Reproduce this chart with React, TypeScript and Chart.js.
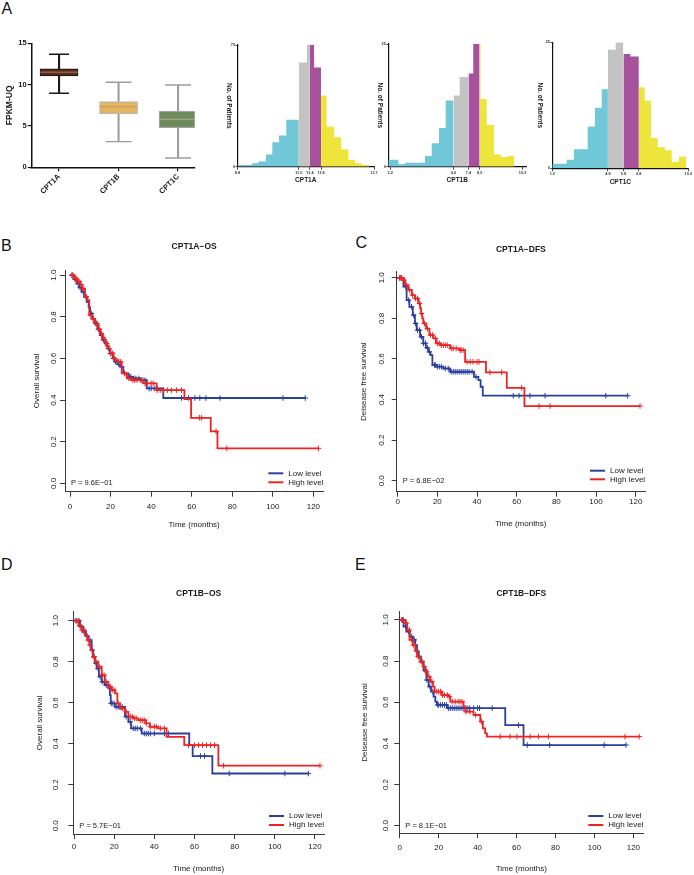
import React, { useEffect, useRef } from 'react';
import { Chart, registerables } from 'chart.js';

Chart.register(...registerables);

const SANS = '"Liberation Sans", Arial, Helvetica, sans-serif';

// ---------------- Panel A: box plot data ----------------
const boxGenes = ['CPT1A', 'CPT1B', 'CPT1C'];
const boxMin = [8.95, 3.1, 1.13];
const boxQ1 = [11.05, 6.45, 4.8];
const boxMedian = [11.5, 7.33, 5.8];
const boxQ3 = [11.9, 7.95, 6.8];
const boxMax = [13.67, 10.28, 9.95];
const boxYTicks = [0, 5, 10, 15];

// ---------------- Panel A: histograms ----------------
const hist1Edges = [8.8, 9.06, 9.32, 9.55, 9.82, 10.05, 10.29, 10.55, 10.79, 11.0, 11.29, 11.4, 11.55, 11.8, 12.0, 12.27, 12.52, 12.78, 13.02, 13.26, 13.52];
const hist1Counts = [1, 1, 2, 3, 7, 14, 18, 27, 27, 60, 70, 70, 57, 41, 23, 17, 10, 4, 2, 1];
const hist1Ticks = [8.8, 11.0, 11.4, 11.8, 13.7];
const hist1YMax = 70;

const hist2Edges = [3.1, 3.64, 4.0, 5.07, 5.43, 5.82, 6.18, 6.6, 6.93, 7.4, 7.66, 8.0, 8.05, 8.38, 8.77, 9.13, 9.49, 9.86];
const hist2Counts = [1.4, 0.5, 0.8, 2.2, 4.8, 7.9, 13.5, 14.5, 18.3, 19, 25, 25, 13.8, 8.5, 2.5, 2, 2.2];
const hist2Ticks = [3.2, 6.6, 7.4, 8.0, 10.3];
const hist2YMax = 25;

const hist3Edges = [1.2, 2.13, 2.6, 3.49, 3.96, 4.4, 4.8, 5.3, 5.8, 6.25, 6.8, 7.18, 7.59, 8.02, 8.49, 8.93, 9.4, 9.85];
const hist3Counts = [0.9, 1.7, 3.8, 8.3, 12, 15.7, 23.5, 25, 22.7, 22.2, 16.1, 13.4, 6, 4.2, 3.6, 1.3, 2.3];
const hist3Ticks = [1.2, 4.8, 5.8, 6.8, 10.0];
const hist3YMax = 25;

// ---------------- KM curves ----------------
const kmTimeTicks = [0, 20, 40, 60, 80, 100, 120];
const kmSurvTicks = [0, 0.2, 0.4, 0.6, 0.8, 1.0];
const kmGroups = ['Low level', 'High level'];

// B: CPT1A-OS
const bLowTime = [0, 2, 3.3, 4.5, 5.75, 7, 8.2, 9.2, 9.9, 11, 12.3, 13.5, 14.8, 16, 17.3, 18.5, 19.7, 21, 22.2, 23.5, 24.7, 26.3, 28.8, 31, 34.5, 37.8, 46];
const bLowSurv = [1.0, 0.98, 0.96, 0.94, 0.92, 0.895, 0.872, 0.845, 0.816, 0.79, 0.768, 0.74, 0.712, 0.69, 0.672, 0.648, 0.624, 0.6, 0.584, 0.572, 0.56, 0.528, 0.512, 0.504, 0.496, 0.456, 0.41];
const bLowCens = [1, 2.5, 4, 5, 6.5, 8, 10.5, 11.5, 12.8, 13.2, 14, 15.5, 16.5, 17, 18, 19, 20, 21.5, 22.5, 24, 27, 29.5, 30, 31.5, 32.5, 34, 35, 36, 37, 39, 40, 41.5, 43, 55, 58.4, 61.6, 64, 67, 74, 105, 116];
const bHighTime = [0, 2, 3.5, 5, 6, 7.4, 8.5, 9.5, 11, 12, 13, 14, 15, 16, 17, 18, 19, 20, 21.4, 22.5, 23.8, 25.5, 28, 30, 36.2, 42.7, 56.4, 59.7, 69.4, 72.7];
const bHighSurv = [1.0, 0.985, 0.97, 0.955, 0.935, 0.896, 0.88, 0.808, 0.79, 0.775, 0.76, 0.74, 0.72, 0.7, 0.68, 0.66, 0.645, 0.625, 0.6, 0.592, 0.584, 0.528, 0.505, 0.496, 0.48, 0.448, 0.405, 0.315, 0.25, 0.168];
const bHighCens = [1, 1.5, 2.5, 3, 4, 4.5, 5.5, 6.5, 8, 10, 11.5, 12.5, 13.5, 14.5, 15.5, 16.5, 17.5, 18.5, 20, 21, 22, 24, 25, 27, 29, 31, 32, 33, 35, 37, 38, 40, 41, 43, 44.5, 46, 48, 50, 52.6, 55, 63.8, 64.8, 72, 77.3, 122.5];

// C: CPT1A-DFS
const cLowTime = [0, 2.9, 4.5, 5.9, 7.6, 8.7, 9.6, 11.3, 12.9, 14.2, 15.5, 16.5, 17.5, 19.7, 23, 26.4, 38.5, 40.7, 41.8, 42.9];
const cLowSurv = [1.0, 0.956, 0.89, 0.857, 0.816, 0.775, 0.742, 0.709, 0.677, 0.655, 0.635, 0.619, 0.57, 0.562, 0.553, 0.537, 0.512, 0.496, 0.463, 0.419];
const cLowCens = [1, 2, 4, 5.5, 7, 8, 9, 10, 11, 12, 13, 14, 15, 16, 18.5, 19, 20, 21, 22, 24, 25.5, 27, 28, 29, 30, 31, 32, 33, 34, 35, 36, 37.5, 39.5, 58.3, 61.2, 66.7, 74.3, 104.9, 116];
const cHighTime = [0, 2.9, 3.7, 5.4, 7.1, 8.7, 10.4, 11.3, 11.8, 12.4, 12.9, 14.3, 16, 18, 19.3, 21.5, 26.4, 31, 34, 44.5, 55, 63.9];
const cHighSurv = [1.0, 0.988, 0.964, 0.94, 0.915, 0.898, 0.874, 0.849, 0.824, 0.8, 0.775, 0.75, 0.718, 0.701, 0.677, 0.668, 0.652, 0.644, 0.586, 0.534, 0.458, 0.368];
const cHighCens = [1, 1.5, 2, 3.2, 4.5, 6, 7.5, 9, 10, 11, 12, 13.5, 15, 16.5, 17.5, 19, 20, 21, 22, 23, 24, 25, 27, 28, 29.5, 31.5, 32, 33, 35, 36.5, 38, 40, 41, 46.5, 52.4, 62.5, 71.3, 76.8, 122.2];

// D: CPT1B-OS
const dLowTime = [0, 3, 4.6, 6, 7.1, 8.3, 8.8, 9.6, 10.5, 11.3, 12.4, 13.8, 15.4, 17.1, 17.9, 18.3, 20.4, 25.4, 27.1, 28.4, 33.7, 57.4, 59.1, 68.9];
const dLowSurv = [1.0, 0.971, 0.946, 0.925, 0.906, 0.898, 0.857, 0.824, 0.792, 0.767, 0.727, 0.702, 0.686, 0.67, 0.637, 0.597, 0.58, 0.532, 0.507, 0.475, 0.45, 0.393, 0.34, 0.255];
const dLowCens = [1, 2.5, 3.5, 5, 6.5, 8, 9, 10, 11, 12, 13, 14, 15, 16, 17, 18.5, 19, 20, 21, 22, 23, 24, 26, 28, 29.5, 30.5, 31.5, 33, 35, 36, 37, 38, 40, 45, 47, 63, 65, 77.3, 105, 116.7];
const dHighTime = [0, 2.2, 3.8, 5.5, 6.6, 7.6, 8.3, 9.3, 10.5, 12.1, 13.8, 15.4, 17.1, 18.8, 20.4, 21.6, 22.9, 25.4, 27.1, 29.5, 32, 35.9, 37.8, 42, 46.1, 54.9, 71.9];
const dHighSurv = [1.0, 0.976, 0.954, 0.93, 0.906, 0.881, 0.857, 0.824, 0.8, 0.776, 0.735, 0.702, 0.678, 0.662, 0.646, 0.597, 0.572, 0.556, 0.532, 0.524, 0.515, 0.499, 0.483, 0.475, 0.434, 0.393, 0.293];
const dHighCens = [1, 2, 3, 4, 5, 7, 8, 10, 11, 12.5, 14, 15, 16, 18, 19, 20, 22, 24, 26, 28, 29, 30, 31, 33, 34, 35, 36, 38, 40, 41, 43, 45, 57, 60, 62, 64, 66, 68, 70, 74.5, 122.5];

// E: CPT1B-DFS
const eLowTime = [0, 2, 3.4, 5.1, 6.8, 8, 8.9, 9.7, 10.9, 12.3, 13.7, 14.9, 16.1, 17.4, 18.3, 19.1, 24.3, 54.2, 63.6];
const eLowSurv = [1.0, 0.968, 0.943, 0.919, 0.903, 0.878, 0.846, 0.822, 0.797, 0.757, 0.708, 0.676, 0.652, 0.627, 0.603, 0.587, 0.571, 0.489, 0.392];
const eLowCens = [1.5, 3, 4.5, 6, 7.5, 9, 10, 11.5, 13, 14, 15.5, 17, 19.5, 20, 21, 22, 23, 24, 25, 26, 27, 28, 29, 30, 31, 32, 33, 34, 35, 36, 38, 40, 41, 47.5, 61, 65.5, 77, 105, 116.2];
const eHighTime = [0, 2.9, 3.8, 5.1, 6.8, 8, 8.9, 10.6, 12, 13.2, 14.4, 15.7, 17.1, 17.9, 21.7, 25.1, 26, 32.8, 33.7, 37.9, 41.4, 42.7, 43.9, 44.8];
const eHighSurv = [1.0, 0.984, 0.951, 0.903, 0.878, 0.854, 0.822, 0.797, 0.773, 0.749, 0.724, 0.7, 0.676, 0.652, 0.635, 0.627, 0.603, 0.579, 0.554, 0.538, 0.506, 0.473, 0.449, 0.433];
const eHighCens = [1, 2, 3.5, 5, 6, 7, 8.5, 9.5, 11, 12.5, 13.5, 15, 16.5, 18, 19, 20, 21, 22, 23, 24.5, 25.5, 27, 28.5, 30, 31, 32, 34, 36, 39, 42, 51.6, 56.7, 60.2, 63.6, 67, 71.3, 76.4, 115.7, 123];

// ---------------- styles ----------------
const BLUE = '#2b3f9e';
const RED = '#ee2424';
const AXIS = '#3a3a3a';
const TXT = '#1a1a1a';
const HIST_COLORS = ['#6fc7d7', '#c3c3c3', '#a7509c', '#ede53c'];
const BOX_FILL = ['#5b2b1d', '#e3b35d', '#6d8b5b'];
const BOX_EDGE = ['#1a1a1a', '#b9b9b9', '#a3a3a3'];
const BOX_MED = ['#8f5d42', '#c9a063', '#9ea394'];
const BOX_WHISK = ['#1a1a1a', '#9c9c9c', '#9c9c9c'];

// ---------------- helpers ----------------
function stepAt(times: number[], surv: number[], t: number) {
  let s = surv[0];
  for (let i = 0; i < times.length; i++) if (times[i] <= t) s = surv[i];
  return s;
}
function curvePoints(times: number[], surv: number[], cens: number[]) {
  const pts = times.map((t, i) => ({ x: t, y: surv[i] }));
  const end = Math.max(...cens, times[times.length - 1]);
  pts.push({ x: end, y: surv[surv.length - 1] });
  return pts;
}
function censorPoints(times: number[], surv: number[], cens: number[]) {
  return cens.map((t) => ({ x: t, y: stepAt(times, surv, t) }));
}
function histSegments(edges: number[], counts: number[], cuts: number[]) {
  const groups: number[][] = [[], [], [], []];
  counts.forEach((_, i) => {
    const k = cuts.filter((v) => v <= edges[i] + 1e-9).length;
    groups[k].push(i);
  });
  return groups.map((idx) => {
    if (!idx.length) return [];
    const pts = idx.map((i) => ({ x: edges[i], y: counts[i] }));
    const last = idx[idx.length - 1];
    pts.push({ x: edges[last + 1], y: counts[last] });
    return pts;
  });
}

function ChartCanvas(props: { left: number; top: number; width: number; height: number; make: () => any }) {
  const ref = useRef<HTMLCanvasElement | null>(null);
  useEffect(() => {
    const chart = new Chart(ref.current as HTMLCanvasElement, props.make());
    return () => chart.destroy();
  }, []);
  return (
    <canvas
      ref={ref}
      width={props.width}
      height={props.height}
      style={{ position: 'absolute', left: props.left, top: props.top, width: props.width, height: props.height, display: 'block' }}
    />
  );
}

// ---------------- Box plot ----------------
function boxConfig() {
  const idx = boxGenes.map((_, i) => i);
  return {
    type: 'bar',
    data: {
      datasets: [
        {
          type: 'scatter',
          data: idx.map((i) => ({ x: i + 1, y: boxMedian[i] })),
          pointStyle: 'line',
          pointRadius: 19,
          pointBorderWidth: 1.3,
          pointBorderColor: BOX_MED,
          order: 0,
        },
        {
          type: 'scatter',
          data: [...idx.map((i) => ({ x: i + 1, y: boxMin[i] })), ...idx.map((i) => ({ x: i + 1, y: boxMax[i] }))],
          pointStyle: 'line',
          pointRadius: [10, 13, 13, 10, 13, 13],
          pointBorderWidth: 1.4,
          pointBorderColor: [...BOX_WHISK, ...BOX_WHISK],
          order: 1,
        },
        {
          type: 'bar',
          data: idx.map((i) => ({ x: i + 1, y: [boxQ1[i], boxQ3[i]] })),
          backgroundColor: BOX_FILL,
          borderColor: BOX_EDGE,
          borderWidth: 1.2,
          borderSkipped: false,
          barThickness: 38,
          grouped: false,
          order: 2,
        },
        {
          type: 'bar',
          data: idx.map((i) => ({ x: i + 1, y: [boxMin[i], boxMax[i]] })),
          backgroundColor: BOX_WHISK,
          borderWidth: 0,
          barThickness: 1.4,
          grouped: false,
          order: 3,
        },
      ],
    },
    options: {
      responsive: false,
      animation: false,
      events: [],
      layout: { padding: { left: 0, right: 15, top: 43.3, bottom: 0 } },
      plugins: { legend: { display: false }, tooltip: { enabled: false } },
      scales: {
        x: {
          type: 'linear',
          min: 0.54,
          max: 3.28,
          offset: false,
          afterBuildTicks: (s: any) => {
            s.ticks = boxGenes.map((_, i) => ({ value: i + 1 }));
          },
          afterFit: (s: any) => {
            s.height = 32.7;
          },
          grid: { display: true, offset: false, drawOnChartArea: false, drawTicks: true, tickLength: 4, color: '#111', lineWidth: 1.2 },
          border: { display: true, color: '#111', width: 1.5 },
          ticks: {
            autoSkip: false,
            minRotation: 45,
            maxRotation: 45,
            padding: 1,
            color: TXT,
            font: { family: SANS, size: 7.5, weight: 'bold' },
            callback: (v: any) => boxGenes[Math.round(Number(v)) - 1] ?? '',
          },
        },
        y: {
          type: 'linear',
          min: 0,
          max: 15,
          afterBuildTicks: (s: any) => {
            s.ticks = boxYTicks.map((v) => ({ value: v }));
          },
          afterFit: (s: any) => {
            s.width = 31.7;
          },
          grid: { display: true, drawOnChartArea: false, drawTicks: true, tickLength: 4, color: '#111', lineWidth: 1.2 },
          border: { display: true, color: '#111', width: 1.5 },
          ticks: { padding: 1, color: TXT, font: { family: SANS, size: 7.5, weight: 'bold' } },
          title: {
            display: true,
            text: 'FPKM-UQ',
            color: TXT,
            font: { family: SANS, size: 8.5, weight: 'bold' },
            padding: { top: 4.9, bottom: 0 },
          },
        },
      },
    },
  };
}

// ---------------- Histograms ----------------
type HistGeom = { yW: number; padR: number; padT: number; xH: number; xMin: number; xMax: number; yTitleX: number; xTitlePad: number };

function histConfig(name: string, edges: number[], counts: number[], ticks: number[], yMax: number, g: HistGeom) {
  const segs = histSegments(edges, counts, ticks.slice(1, 4));
  const yTitlePlugin = {
    id: 'histYTitle',
    afterDraw(chart: any) {
      const { ctx, chartArea: ca } = chart;
      ctx.save();
      ctx.translate(g.yTitleX, (ca.top + ca.bottom) / 2);
      ctx.rotate(Math.PI / 2);
      ctx.font = `bold 6.5px ${SANS}`;
      ctx.fillStyle = TXT;
      ctx.textAlign = 'center';
      ctx.textBaseline = 'middle';
      ctx.fillText('No. of Patients', 0, 0);
      ctx.restore();
    },
  };
  return {
    type: 'line',
    data: {
      datasets: segs.map((pts, k) => ({
        data: pts,
        stepped: 'before',
        fill: 'origin',
        backgroundColor: HIST_COLORS[k],
        borderColor: 'rgba(0,0,0,0)',
        borderWidth: 0,
        pointRadius: 0,
      })),
    },
    options: {
      responsive: false,
      animation: false,
      events: [],
      layout: { padding: { left: 0, right: g.padR, top: g.padT, bottom: 0 } },
      plugins: { legend: { display: false }, tooltip: { enabled: false } },
      scales: {
        x: {
          type: 'linear',
          min: g.xMin,
          max: g.xMax,
          afterBuildTicks: (s: any) => {
            s.ticks = ticks.map((v) => ({ value: v }));
          },
          afterFit: (s: any) => {
            s.height = g.xH;
          },
          grid: { display: true, drawOnChartArea: false, drawTicks: true, tickLength: 3, color: '#222', lineWidth: 0.8 },
          border: { display: true, color: '#111', width: 1.2 },
          ticks: {
            autoSkip: false,
            maxRotation: 0,
            minRotation: 0,
            padding: 0.5,
            color: '#333',
            font: { family: SANS, size: 3.8, weight: 'bold' },
            callback: (v: any) => Number(v).toFixed(1),
          },
          title: {
            display: true,
            text: name,
            color: TXT,
            font: { family: SANS, size: 6.5, weight: 'bold' },
            padding: { top: 0, bottom: g.xTitlePad },
          },
        },
        y: {
          type: 'linear',
          min: 0,
          max: yMax,
          afterBuildTicks: (s: any) => {
            s.ticks = [0, yMax].map((v) => ({ value: v }));
          },
          afterFit: (s: any) => {
            s.width = g.yW;
          },
          grid: { display: true, drawOnChartArea: false, drawTicks: true, tickLength: 2, color: '#222', lineWidth: 0.8 },
          border: { display: true, color: '#111', width: 1.2 },
          ticks: { padding: 0.5, color: '#333', font: { family: SANS, size: 3.8, weight: 'bold' } },
        },
      },
    },
    plugins: [yTitlePlugin],
  };
}

// ---------------- KM plots ----------------
type KmGeom = {
  yW: number; xH: number; padR: number; padT: number;
  xMin: number; xMax: number; yMin: number; yMax: number;
  yTickPad: number; xTickPad: number; yTitlePad: number; xTitlePad: number;
  titleDy: number; legDy: number[];
};
type KmSpec = {
  title: string; yTitle: string; pText: string;
  lowT: number[]; lowS: number[]; lowC: number[];
  highT: number[]; highS: number[]; highC: number[];
};

function kmConfig(sp: KmSpec, g: KmGeom) {
  const decor = {
    id: 'kmDecor',
    afterDraw(chart: any) {
      const { ctx, chartArea: ca } = chart;
      const y0 = chart.scales.y.getPixelForValue(0);
      ctx.save();
      ctx.fillStyle = TXT;
      ctx.textBaseline = 'middle';
      ctx.textAlign = 'center';
      ctx.font = `bold 8.5px ${SANS}`;
      ctx.fillText(sp.title, (ca.left + ca.right) / 2, ca.top - g.titleDy);
      ctx.textAlign = 'left';
      ctx.font = `7.5px ${SANS}`;
      ctx.fillText(sp.pText, ca.left + 6, y0);
      ctx.font = `8px ${SANS}`;
      [BLUE, RED].forEach((col, i) => {
        const y = ca.bottom - g.legDy[i];
        ctx.strokeStyle = col;
        ctx.lineWidth = 2;
        ctx.beginPath();
        ctx.moveTo(ca.right - 55, y);
        ctx.lineTo(ca.right - 40, y);
        ctx.stroke();
        ctx.fillStyle = TXT;
        ctx.fillText(kmGroups[i], ca.right - 35, y);
      });
      ctx.restore();
    },
  };
  const axisCommon = {
    grid: { display: true, drawOnChartArea: false, drawTicks: true, tickLength: 5, color: AXIS, lineWidth: 1 },
    border: { display: true, color: AXIS, width: 1 },
  };
  return {
    type: 'line',
    data: {
      datasets: [
        {
          type: 'scatter',
          data: censorPoints(sp.highT, sp.highS, sp.highC),
          pointStyle: 'cross',
          pointRadius: 2.8,
          pointBorderWidth: 1,
          pointBorderColor: RED,
          order: 0,
        },
        {
          type: 'line',
          data: curvePoints(sp.highT, sp.highS, sp.highC),
          stepped: 'before',
          borderColor: RED,
          borderWidth: 1.8,
          pointRadius: 0,
          fill: false,
          order: 1,
        },
        {
          type: 'scatter',
          data: censorPoints(sp.lowT, sp.lowS, sp.lowC),
          pointStyle: 'cross',
          pointRadius: 2.8,
          pointBorderWidth: 1,
          pointBorderColor: BLUE,
          order: 2,
        },
        {
          type: 'line',
          data: curvePoints(sp.lowT, sp.lowS, sp.lowC),
          stepped: 'before',
          borderColor: BLUE,
          borderWidth: 1.8,
          pointRadius: 0,
          fill: false,
          order: 3,
        },
      ],
    },
    options: {
      responsive: false,
      animation: false,
      events: [],
      layout: { padding: { left: 0, right: g.padR, top: g.padT, bottom: 0 } },
      plugins: { legend: { display: false }, tooltip: { enabled: false } },
      scales: {
        x: {
          type: 'linear',
          min: g.xMin,
          max: g.xMax,
          afterBuildTicks: (s: any) => {
            s.ticks = kmTimeTicks.map((v) => ({ value: v }));
          },
          afterFit: (s: any) => {
            s.height = g.xH;
          },
          ...axisCommon,
          ticks: {
            autoSkip: false,
            maxRotation: 0,
            minRotation: 0,
            padding: g.xTickPad,
            color: TXT,
            font: { family: SANS, size: 8 },
            callback: (v: any) => String(v),
          },
          title: {
            display: true,
            text: 'Time (months)',
            color: TXT,
            font: { family: SANS, size: 8 },
            padding: { top: 0, bottom: g.xTitlePad },
          },
        },
        y: {
          type: 'linear',
          min: g.yMin,
          max: g.yMax,
          afterBuildTicks: (s: any) => {
            s.ticks = kmSurvTicks.map((v) => ({ value: v }));
          },
          afterFit: (s: any) => {
            s.width = g.yW;
          },
          ...axisCommon,
          ticks: {
            autoSkip: false,
            minRotation: 90,
            maxRotation: 90,
            crossAlign: 'center',
            padding: g.yTickPad,
            color: TXT,
            font: { family: SANS, size: 8 },
            callback: (v: any) => Number(v).toFixed(1),
          },
          title: {
            display: true,
            text: sp.yTitle,
            color: TXT,
            font: { family: SANS, size: 8 },
            padding: { top: g.yTitlePad, bottom: 0 },
          },
        },
      },
    },
    plugins: [decor],
  };
}

const specB: KmSpec = {
  title: 'CPT1A−OS', yTitle: 'Overall survival', pText: 'P = 9.6E−01',
  lowT: bLowTime, lowS: bLowSurv, lowC: bLowCens, highT: bHighTime, highS: bHighSurv, highC: bHighCens,
};
const specC: KmSpec = {
  title: 'CPT1A−DFS', yTitle: 'Deisease free survival', pText: 'P = 6.8E−02',
  lowT: cLowTime, lowS: cLowSurv, lowC: cLowCens, highT: cHighTime, highS: cHighSurv, highC: cHighCens,
};
const specD: KmSpec = {
  title: 'CPT1B−OS', yTitle: 'Overall survival', pText: 'P = 5.7E−01',
  lowT: dLowTime, lowS: dLowSurv, lowC: dLowCens, highT: dHighTime, highS: dHighSurv, highC: dHighCens,
};
const specE: KmSpec = {
  title: 'CPT1B−DFS', yTitle: 'Deisease free survival', pText: 'P = 8.1E−01',
  lowT: eLowTime, lowS: eLowSurv, lowC: eLowCens, highT: eHighTime, highS: eHighSurv, highC: eHighCens,
};

const geomB: KmGeom = { yW: 65, xH: 38.3, padR: 26.7, padT: 40, xMin: -2.47, xMax: 124.9, yMin: -0.04, yMax: 1.025, yTickPad: 1, xTickPad: 5, yTitlePad: 32.2, xTitlePad: 0.2, titleDy: 23, legDy: [18.4, 9.4] };
const geomC: KmGeom = { yW: 46.7, xH: 38.3, padR: 49, padT: 41.7, xMin: -0.5, xMax: 124.7, yMin: -0.054, yMax: 1.03, yTickPad: 4, xTickPad: 0.5, yTitlePad: 8.5, xTitlePad: 1.9, titleDy: 21.7, legDy: [21, 12.4] };
const geomD: KmGeom = { yW: 73.3, xH: 41, padR: 26, padT: 51.7, xMin: -0.35, xMax: 124.5, yMin: -0.04, yMax: 1.044, yTickPad: 7.3, xTickPad: 3.2, yTitlePad: 34.5, xTitlePad: 1.9, titleDy: 18.4, legDy: [18, 9] };
const geomE: KmGeom = { yW: 49.3, xH: 41.7, padR: 50.7, padT: 51.7, xMin: -0.2, xMax: 125.1, yMin: -0.037, yMax: 1.04, yTickPad: 3.3, xTickPad: 4.2, yTitlePad: 10.2, xTitlePad: 1.9, titleDy: 18.4, legDy: [17.3, 8.3] };

const h1Geom: HistGeom = { yW: 12.5, padR: 11, padT: 15, xH: 23.3, xMin: 8.8, xMax: 13.7, yTitleX: 4, xTitlePad: 6.1 };
const h2Geom: HistGeom = { yW: 16.3, padR: 5.8, padT: 14, xH: 23.3, xMin: 3.1, xMax: 10.5, yTitleX: 8, xTitlePad: 6.1 };
const h3Geom: HistGeom = { yW: 20.3, padR: 5.7, padT: 12.3, xH: 21.7, xMin: 1.2, xMax: 10.0, yTitleX: 8, xTitlePad: 3.4 };

function Letter(props: { text: string; left: number; top: number }) {
  return (
    <div
      style={{
        position: 'absolute',
        left: props.left,
        top: props.top,
        fontFamily: SANS,
        fontSize: 16,
        lineHeight: '16px',
        color: '#111',
      }}
    >
      {props.text}
    </div>
  );
}

export default function App() {
  return (
    <div style={{ position: 'absolute', left: 0, top: 0, width: 694, height: 875, background: '#ffffff', overflow: 'hidden' }}>
      <Letter text="A" left={1.5} top={1.3} />
      <Letter text="B" left={1} top={238} />
      <Letter text="C" left={355.5} top={235} />
      <Letter text="D" left={1} top={556.5} />
      <Letter text="E" left={355} top={556.5} />
      <ChartCanvas left={0} top={0} width={215} height={200} make={boxConfig} />
      <ChartCanvas left={225} top={30} width={160} height={160} make={() => histConfig('CPT1A', hist1Edges, hist1Counts, hist1Ticks, hist1YMax, h1Geom)} />
      <ChartCanvas left={372} top={30} width={160} height={160} make={() => histConfig('CPT1B', hist2Edges, hist2Counts, hist2Ticks, hist2YMax, h2Geom)} />
      <ChartCanvas left={532} top={30} width={162} height={160} make={() => histConfig('CPT1C', hist3Edges, hist3Counts, hist3Ticks, hist3YMax, h3Geom)} />
      <ChartCanvas left={0} top={230} width={350} height={300} make={() => kmConfig(specB, geomB)} />
      <ChartCanvas left={350} top={230} width={344} height={300} make={() => kmConfig(specC, geomC)} />
      <ChartCanvas left={0} top={560} width={350} height={315} make={() => kmConfig(specD, geomD)} />
      <ChartCanvas left={350} top={560} width={344} height={315} make={() => kmConfig(specE, geomE)} />
    </div>
  );
}
